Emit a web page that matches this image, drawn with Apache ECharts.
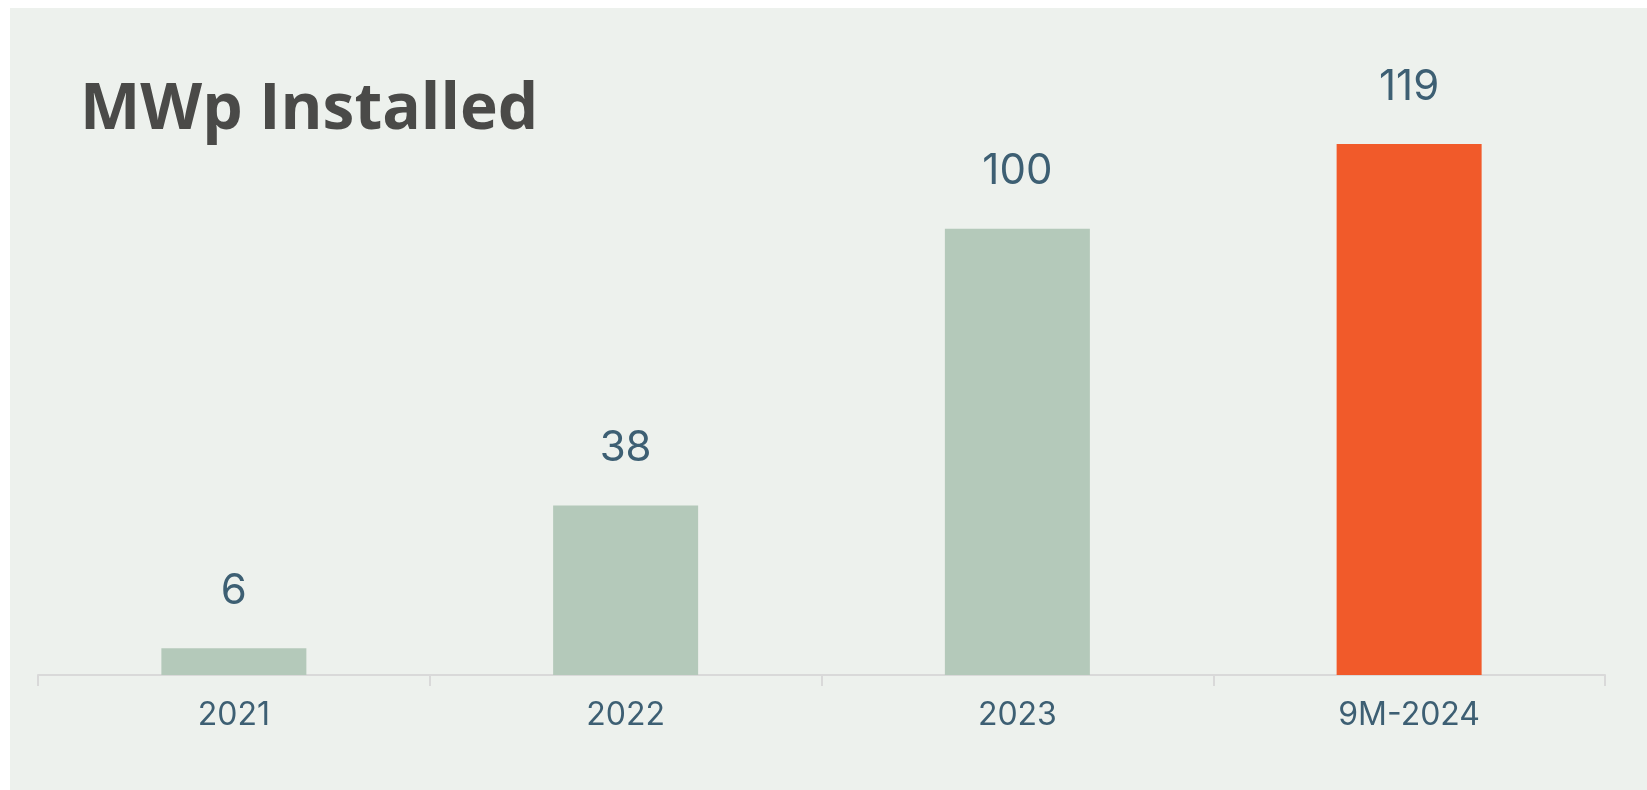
<!DOCTYPE html>
<html>
<head>
<meta charset="utf-8">
<title>MWp Installed</title>
<script src="https://cdn.jsdelivr.net/npm/echarts@6/dist/echarts.min.js"></script>
<style>
  html, body { margin: 0; padding: 0; background: #ffffff; }
  #chart { position: absolute; left: 10px; top: 8px; width: 1637px; height: 782px; }
</style>
</head>
<body>
<div id="chart"></div>
<script>
const categories = ['2021', '2022', '2023', '9M-2024']
const mwpInstalled = [6, 38, 100, 119]
const barColors = ['#b4c9ba', '#b4c9ba', '#b4c9ba', '#f15a2a']

const chart = echarts.init(document.getElementById('chart'))
chart.setOption({
  backgroundColor: '#edf1ed',
  animation: false,
  title: {
    text: 'MWp Installed',
    left: 65,
    top: 66,
    textStyle: {
      fontFamily: 'Open Sans',
      fontSize: 64,
      fontWeight: 'bold',
      color: '#4a4a48'
    }
  },
  grid: {
    left: 28,
    right: 42,
    top: 2,
    bottom: 115
  },
  xAxis: {
    type: 'category',
    data: categories,
    axisLine: { lineStyle: { color: '#d9d9d9', width: 2 } },
    axisTick: { show: true, length: 11, lineStyle: { color: '#d9d9d9', width: 2 } },
    axisLabel: {
      margin: 24,
      fontFamily: 'Inter',
      fontSize: 32,
      color: '#3d5f73'
    }
  },
  yAxis: {
    type: 'value',
    min: 0,
    max: 149,
    show: false,
    splitLine: { show: false }
  },
  series: [
    {
      type: 'bar',
      barWidth: 145,
      data: mwpInstalled.map((v, i) => ({ value: v, itemStyle: { color: barColors[i] } })),
      label: {
        show: true,
        position: 'top',
        distance: 36,
        fontFamily: 'Inter',
        fontSize: 42,
        color: '#3d5f73'
      }
    }
  ]
})
</script>
</body>
</html>
